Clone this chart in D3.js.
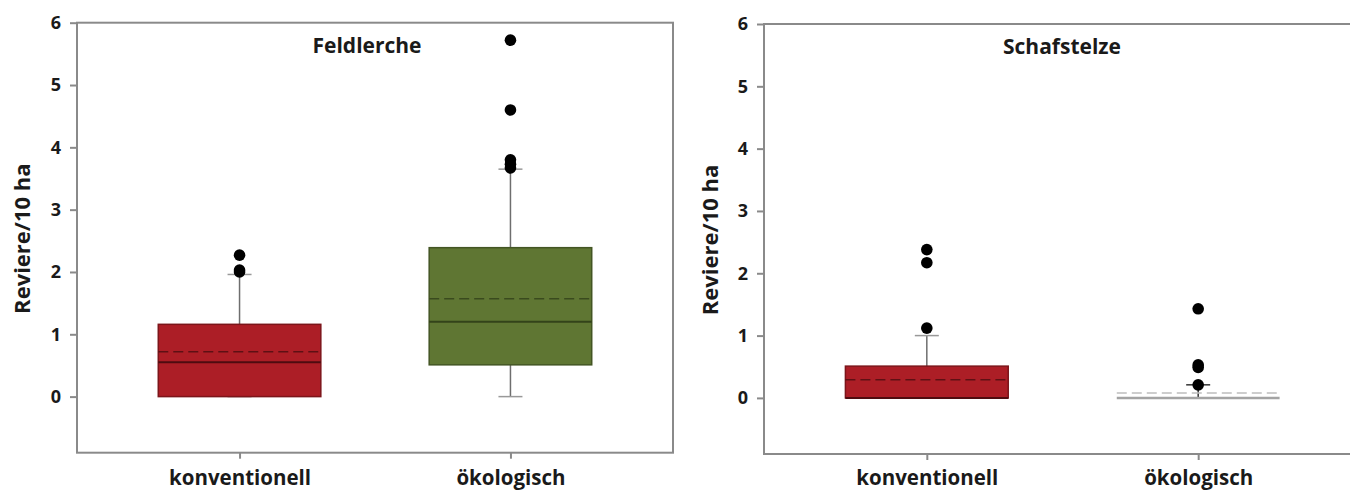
<!DOCTYPE html>
<html>
<head>
<meta charset="utf-8">
<script src="https://cdn.jsdelivr.net/npm/d3@7"></script>
<style>
  html, body { margin: 0; padding: 0; background: #ffffff; }
  svg { display: block; }
  svg text { font-family: "Open Sans", "DejaVu Sans", sans-serif; }
</style>
</head>
<body>
<svg id="chart" width="1350" height="491"></svg>
<script>
// Categories and axis ticks shared by both panels
const categories = ["konventionell", "ökologisch"];
const yTicks = [0, 1, 2, 3, 4, 5, 6];
const yDomain = [-0.9, 6];

// Feldlerche: box statistics per category
const feldlercheQ1 = [0, 0.51];
const feldlercheMedian = [0.55, 1.20];
const feldlercheQ3 = [1.16, 2.39];
const feldlercheMean = [0.72, 1.57];
const feldlercheWhiskerLow = [0, 0];
const feldlercheWhiskerHigh = [1.96, 3.65];
const feldlercheOutliers = [[2.0, 2.03, 2.27], [3.67, 3.73, 3.80, 4.60, 5.72]];

// Schafstelze: box statistics per category
const schafstelzeQ1 = [0, 0];
const schafstelzeMedian = [0, 0];
const schafstelzeQ3 = [0.51, 0];
const schafstelzeMean = [0.29, 0.08];
const schafstelzeWhiskerLow = [0, 0];
const schafstelzeWhiskerHigh = [1.0, 0.21];
const schafstelzeOutliers = [[1.12, 2.17, 2.38], [0.21, 0.49, 0.53, 1.43]];

// Fill / line colours per category
const boxFill = ["#ac1e26", "#5f7633"];
const boxStroke = ["#7c151a", "#435523"];
const medianColor = ["#4f0c10", "#33431a"];
const meanColor = ["#5e1014", "#3a4a1e"];

const FONT = "'Open Sans', 'DejaVu Sans', sans-serif";
const LABEL_TOP = 470.7; // top of the category labels, shared by both panels
const svg = d3.select("#chart");

function drawPanel(opt) {
  const g = svg.append("g");
  const y = d3.scaleLinear().domain(yDomain).range([opt.bottom, opt.top]);
  const x = d3.scalePoint().domain(categories).range([opt.left, opt.right]).padding(0.6);
  const halfBox = x.step() * 0.3;
  const capHalf = 12;

  // Y axis with outward ticks
  const yAxis = d3.axisLeft(y).tickValues(yTicks).tickSize(7).tickPadding(9).tickFormat(d3.format("d"));
  const ya = g.append("g").attr("transform", `translate(${opt.left},0)`).call(yAxis)
    .attr("font-family", FONT);
  ya.select(".domain").remove();
  ya.selectAll(".tick line").attr("stroke", "#8a8a8a").attr("stroke-width", 2);
  ya.selectAll(".tick text").attr("fill", "#1a1a1a").attr("font-size", 18).attr("font-weight", 700)
    .attr("font-family", FONT);

  // X axis ticks below the frame
  const xAxis = d3.axisBottom(x).tickSize(6).tickPadding(LABEL_TOP - opt.bottom - 6);
  const xa = g.append("g").attr("transform", `translate(0,${opt.bottom})`).call(xAxis)
    .attr("font-family", FONT);
  xa.select(".domain").remove();
  xa.selectAll(".tick line").attr("stroke", "#8a8a8a").attr("stroke-width", 2);
  xa.selectAll(".tick text").attr("fill", "#1a1a1a").attr("font-size", 20.5).attr("font-weight", 700)
    .attr("font-family", FONT).attr("dy", "0.71em");

  // Frame
  g.append("rect")
    .attr("x", opt.left).attr("y", opt.top)
    .attr("width", opt.right - opt.left).attr("height", opt.bottom - opt.top)
    .attr("fill", "none").attr("stroke", "#8a8a8a").attr("stroke-width", 2);

  // Y axis title
  g.append("text")
    .attr("transform", `translate(${opt.titleX},${(y(6) + y(0)) / 2 + 29}) rotate(-90)`)
    .attr("text-anchor", "middle")
    .attr("font-family", FONT)
    .attr("font-size", 22).attr("font-weight", 700).attr("fill", "#1a1a1a")
    .text("Reviere/10 ha");

  // Panel title
  g.append("text")
    .attr("x", opt.headX).attr("y", opt.top + 30)
    .attr("text-anchor", "middle")
    .attr("font-family", FONT)
    .attr("font-size", 21).attr("font-weight", 700).attr("fill", "#1a1a1a")
    .text(opt.name);

  categories.forEach((c, i) => {
    const cx = x(c);
    const flat = opt.q1[i] === opt.q3[i];
    const whiskColor = "#6e6e6e";

    // Whiskers
    g.append("line").attr("x1", cx).attr("x2", cx)
      .attr("y1", y(opt.q3[i])).attr("y2", y(opt.whiskerHigh[i]))
      .attr("stroke", flat ? "#333" : whiskColor).attr("stroke-width", 1.5);
    g.append("line").attr("x1", cx - capHalf).attr("x2", cx + capHalf)
      .attr("y1", y(opt.whiskerHigh[i])).attr("y2", y(opt.whiskerHigh[i]))
      .attr("stroke", flat ? "#333" : "#999").attr("stroke-width", 1.5);
    if (opt.whiskerLow[i] < opt.q1[i]) {
      g.append("line").attr("x1", cx).attr("x2", cx)
        .attr("y1", y(opt.q1[i])).attr("y2", y(opt.whiskerLow[i]))
        .attr("stroke", whiskColor).attr("stroke-width", 1.5);
    }
    g.append("line").attr("x1", cx - capHalf).attr("x2", cx + capHalf)
      .attr("y1", y(opt.whiskerLow[i])).attr("y2", y(opt.whiskerLow[i]))
      .attr("stroke", "#999").attr("stroke-width", 1.5);

    if (flat) {
      // Zero-height box: drawn as a grey line with grey mean
      g.append("line").attr("x1", cx - halfBox).attr("x2", cx + halfBox)
        .attr("y1", y(opt.median[i])).attr("y2", y(opt.median[i]))
        .attr("stroke", "#a3a3a3").attr("stroke-width", 2.5);
      g.append("line").attr("x1", cx - halfBox).attr("x2", cx + halfBox)
        .attr("y1", y(opt.mean[i])).attr("y2", y(opt.mean[i]))
        .attr("stroke", "#bdbdbd").attr("stroke-width", 1.5).attr("stroke-dasharray", "10,5");
    } else {
      g.append("rect")
        .attr("x", cx - halfBox).attr("y", y(opt.q3[i]))
        .attr("width", halfBox * 2).attr("height", y(opt.q1[i]) - y(opt.q3[i]))
        .attr("fill", boxFill[i]).attr("stroke", boxStroke[i]).attr("stroke-width", 1.5);
      g.append("line").attr("x1", cx - halfBox).attr("x2", cx + halfBox)
        .attr("y1", y(opt.median[i])).attr("y2", y(opt.median[i]))
        .attr("stroke", medianColor[i]).attr("stroke-width", 2);
      g.append("line").attr("x1", cx - halfBox).attr("x2", cx + halfBox)
        .attr("y1", y(opt.mean[i])).attr("y2", y(opt.mean[i]))
        .attr("stroke", meanColor[i]).attr("stroke-width", 1.5).attr("stroke-dasharray", "10,5");
    }

    // Outliers
    g.selectAll(null).data(opt.outliers[i]).enter().append("circle")
      .attr("cx", cx).attr("cy", d => y(d)).attr("r", 5.8).attr("fill", "#000");
  });
}

drawPanel({
  name: "Feldlerche", left: 77, right: 673, top: 22.7, bottom: 452.7,
  titleX: 30, headX: 367,
  q1: feldlercheQ1, median: feldlercheMedian, q3: feldlercheQ3, mean: feldlercheMean,
  whiskerLow: feldlercheWhiskerLow, whiskerHigh: feldlercheWhiskerHigh, outliers: feldlercheOutliers
});

drawPanel({
  name: "Schafstelze", left: 764, right: 1361, top: 24, bottom: 454,
  titleX: 718, headX: 1062,
  q1: schafstelzeQ1, median: schafstelzeMedian, q3: schafstelzeQ3, mean: schafstelzeMean,
  whiskerLow: schafstelzeWhiskerLow, whiskerHigh: schafstelzeWhiskerHigh, outliers: schafstelzeOutliers
});
</script>
</body>
</html>
